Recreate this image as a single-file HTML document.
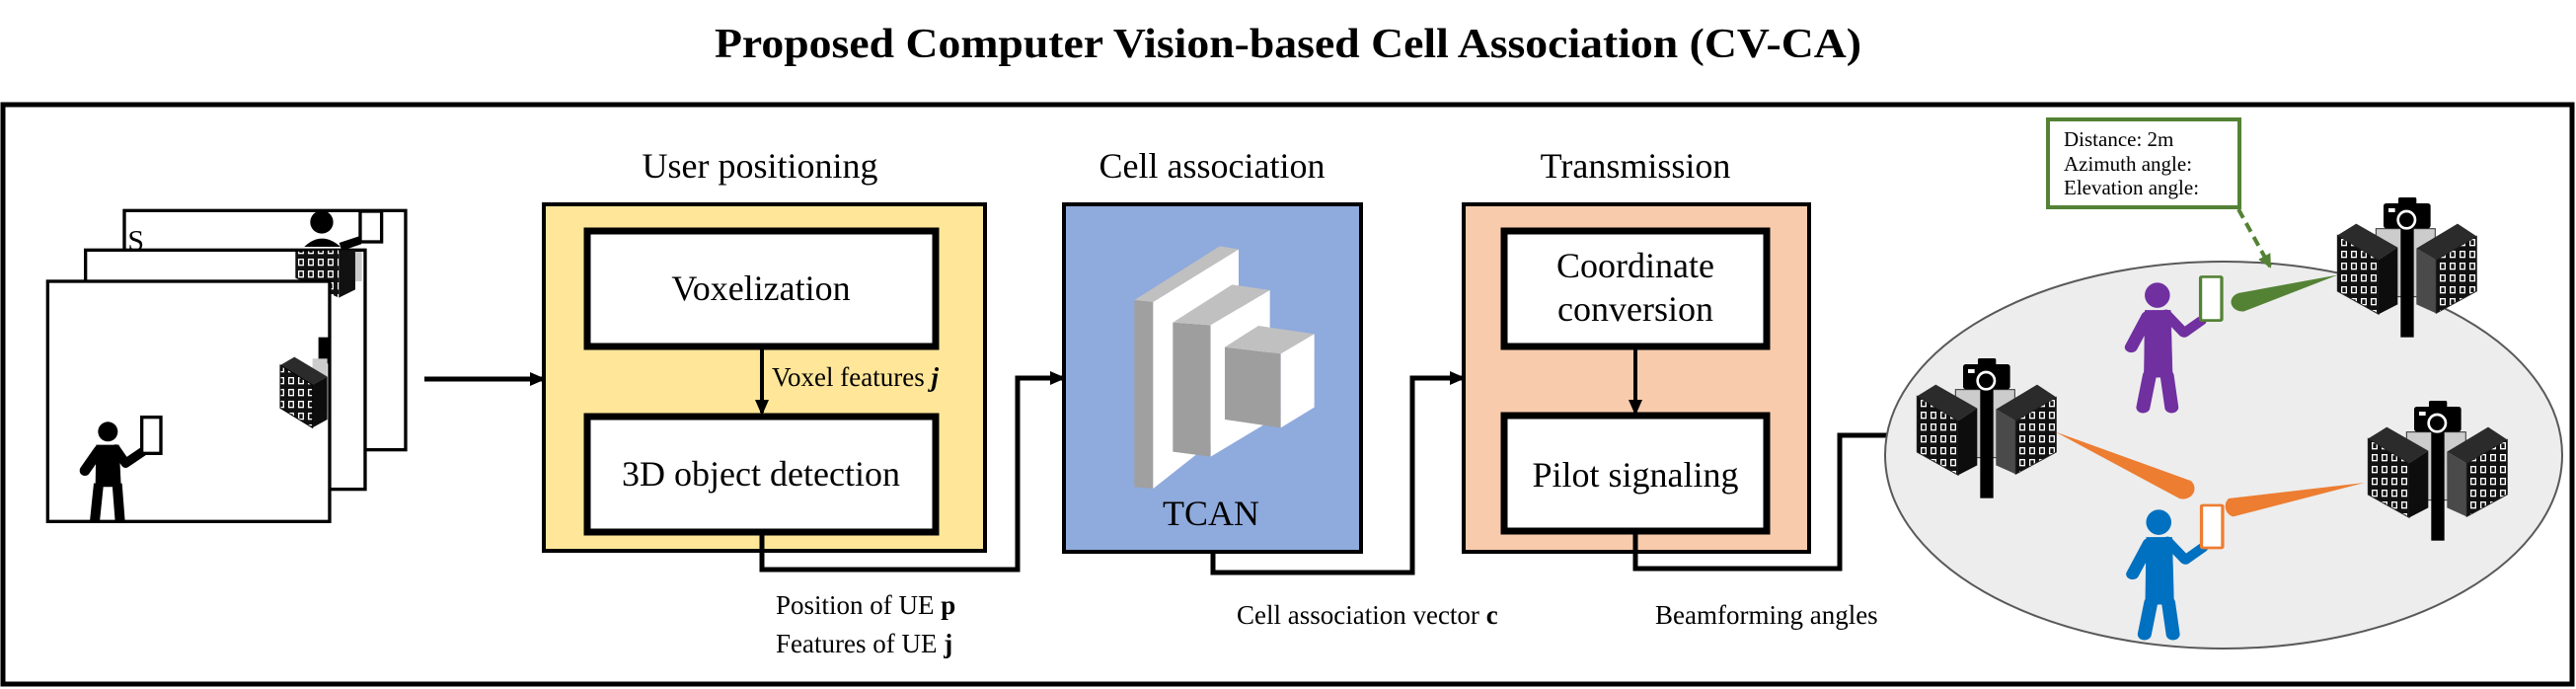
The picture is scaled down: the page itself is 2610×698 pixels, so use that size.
<!DOCTYPE html>
<html><head><meta charset="utf-8"><style>
html,body{margin:0;padding:0;background:#fff;}
svg{display:block;}
text{font-family:"Liberation Serif","Times New Roman",serif;fill:#000;}
</style></head><body>
<svg width="2610" height="698" viewBox="0 0 2610 698" xmlns="http://www.w3.org/2000/svg" font-family="Liberation Serif, serif">
<defs>
<marker id="ah" markerWidth="16" markerHeight="16" refX="13" refY="8" orient="auto" markerUnits="userSpaceOnUse">
<path d="M0,1 L16,8 L0,15 Z" fill="#000"/></marker>
<marker id="ahg" markerWidth="14" markerHeight="14" refX="12" refY="7" orient="auto" markerUnits="userSpaceOnUse">
<path d="M0,0 L14,7 L0,14 Z" fill="#548235"/></marker>
<pattern id="win" x="0" y="0" width="30" height="36" patternUnits="userSpaceOnUse">
<rect width="30" height="36" fill="#111"/><rect x="6" y="6" width="18" height="22" fill="#fff"/><rect x="10" y="10" width="10" height="14" fill="#111"/></pattern>
<g id="cluster">
<rect x="382" y="155" width="180" height="207" fill="#ccc" stroke="#333" stroke-width="3"/>
<polygon points="265,175 322,140 448,212 390,250" fill="#2b2b2b"/>
<polygon points="265,175 390,250 390,415 265,345" fill="url(#win)" stroke="#222" stroke-width="3"/>
<polygon points="390,250 448,212 448,385 390,415" fill="#0d0d0d"/>
<polygon points="505,215 630,140 688,178 565,250" fill="#2b2b2b"/>
<polygon points="505,215 565,250 565,412 505,385" fill="#4a4a4a"/>
<polygon points="565,250 688,178 688,345 565,412" fill="url(#win)" stroke="#222" stroke-width="3"/>
<rect x="457" y="150" width="40" height="335" fill="#000"/>
<rect x="405" y="78" width="143" height="76" rx="8" fill="#000"/>
<rect x="450" y="60" width="55" height="22" rx="5" fill="#000"/>
<circle cx="475" cy="128" r="26" fill="none" stroke="#fff" stroke-width="8"/>
<rect x="420" y="93" width="20" height="12" fill="#fff"/>
</g>
<g id="person">
<ellipse cx="657" cy="522" rx="27" ry="33"/>
<path d="M630,562 L686,562 L690,740 L628,740 Z"/>
<line x1="640" y1="735" x2="626" y2="820" stroke-width="30" stroke-linecap="round"/>
<line x1="678" y1="735" x2="688" y2="820" stroke-width="30" stroke-linecap="round"/>
<line x1="636" y1="578" x2="600" y2="660" stroke-width="28" stroke-linecap="round"/>
<polyline points="676,572 715,622 752,590" fill="none" stroke-width="24" stroke-linecap="round" stroke-linejoin="round"/>
</g>
</defs>

<text x="724" y="58" font-size="42" font-weight="bold" textLength="1162" lengthAdjust="spacingAndGlyphs">Proposed Computer Vision-based Cell Association (CV-CA)</text>
<rect x="3" y="106" width="2603" height="587" fill="none" stroke="#000" stroke-width="5"/>

<g transform="translate(40,200) scale(0.3333)">
<rect x="258" y="40" width="855" height="727" fill="#fff" stroke="#000" stroke-width="10"/>
<text x="268" y="160" font-size="90">S</text>
<ellipse cx="858" cy="75" rx="35" ry="35"/>
<path d="M805,150 Q858,100 915,150 Z"/>
<rect x="975" y="42" width="65" height="93" fill="#fff" stroke="#000" stroke-width="10"/>
<line x1="915" y1="150" x2="975" y2="130" stroke="#000" stroke-width="25"/>
<rect x="140" y="160" width="850" height="727" fill="#fff" stroke="#000" stroke-width="10"/>
<polygon points="778,165 910,160 910,305 778,245" fill="url(#win)"/>
<polygon points="910,160 960,160 960,280 910,305" fill="#111"/>
<rect x="960" y="165" width="20" height="90" fill="#ccc"/>
<rect x="350" y="255" width="80" height="110"/>
<line x1="362" y1="360" x2="355" y2="440" stroke="#000" stroke-width="30" stroke-linecap="round"/>
<line x1="418" y1="360" x2="428" y2="440" stroke="#000" stroke-width="30" stroke-linecap="round"/>
<line x1="340" y1="270" x2="325" y2="295" stroke="#000" stroke-width="28" stroke-linecap="round"/>
<rect x="25" y="255" width="857" height="730" fill="#fff" stroke="#000" stroke-width="10"/>
<rect x="848" y="425" width="30" height="80" fill="#000"/>
<rect x="830" y="490" width="45" height="160" fill="#ccc"/>
<polygon points="732,510 775,485 875,545 830,570" fill="#2b2b2b"/>
<polygon points="732,510 830,570 830,700 732,640" fill="url(#win)" stroke="#000" stroke-width="3"/>
<polygon points="830,570 875,545 875,675 830,700" fill="#0d0d0d"/>
<circle cx="208" cy="712" r="30"/>
<path d="M172,752 L242,752 L248,880 L170,880 Z"/>
<line x1="180" y1="870" x2="168" y2="985" stroke="#000" stroke-width="30"/>
<line x1="236" y1="870" x2="245" y2="985" stroke="#000" stroke-width="30"/>
<line x1="180" y1="770" x2="138" y2="830" stroke="#000" stroke-width="32" stroke-linecap="round"/>
<polyline points="232,765 262,808 318,770" fill="none" stroke="#000" stroke-width="28" stroke-linecap="round" stroke-linejoin="round"/>
<rect x="311" y="668" width="58" height="110" fill="#fff" stroke="#000" stroke-width="10"/>
</g>
<line x1="430" y1="384" x2="550" y2="384" stroke="#000" stroke-width="5" marker-end="url(#ah)"/>

<text x="770" y="180" font-size="36" text-anchor="middle">User positioning</text>
<rect x="551" y="207" width="447" height="351" fill="#FFE699" stroke="#000" stroke-width="4"/>
<rect x="595" y="234" width="353" height="117" fill="#fff" stroke="#000" stroke-width="7"/>
<text x="771" y="304" font-size="36" text-anchor="middle">Voxelization</text>
<line x1="772" y1="354" x2="772" y2="418" stroke="#000" stroke-width="4" marker-end="url(#ah)"/>
<text x="782" y="391" font-size="27">Voxel features <tspan font-weight="bold" font-style="italic">j</tspan></text>
<rect x="595" y="422" width="353" height="117" fill="#fff" stroke="#000" stroke-width="7"/>
<text x="771" y="492" font-size="36" text-anchor="middle">3D object detection</text>
<polyline points="772,540 772,577 1031,577 1031,383 1077,383" fill="none" stroke="#000" stroke-width="5" marker-end="url(#ah)"/>
<text x="786" y="622" font-size="27">Position of UE <tspan font-weight="bold">p</tspan></text>
<text x="786" y="661" font-size="27">Features of UE <tspan font-weight="bold">j</tspan></text>

<text x="1228" y="180" font-size="36" text-anchor="middle">Cell association</text>
<rect x="1078" y="207" width="301" height="352" fill="#8FAADC" stroke="#000" stroke-width="4"/>
<g transform="translate(1130,230) scale(0.3333)">
<polygon points="58,222 115,228 115,795 58,790" fill="#a0a0a0"/>
<polygon points="58,222 318,58 375,68 115,228" fill="#c0c0c0"/>
<polygon points="115,228 375,68 375,590 115,795" fill="#fff"/>
<polygon points="175,290 290,298 290,698 175,683" fill="#9e9e9e"/>
<polygon points="175,290 355,175 470,192 290,298" fill="#c0c0c0"/>
<polygon points="290,298 470,192 470,590 290,698" fill="#fff"/>
<polygon points="333,365 503,385 503,610 333,585" fill="#9e9e9e"/>
<polygon points="333,365 435,300 605,325 503,385" fill="#c0c0c0"/>
<polygon points="503,385 605,325 605,548 503,610" fill="#fff"/>
</g>
<text x="1227" y="532" font-size="36" text-anchor="middle">TCAN</text>
<polyline points="1229,559 1229,580 1431,580 1431,383 1482,383" fill="none" stroke="#000" stroke-width="5" marker-end="url(#ah)"/>
<text x="1253" y="632" font-size="27">Cell association vector <tspan font-weight="bold">c</tspan></text>

<text x="1657" y="180" font-size="36" text-anchor="middle">Transmission</text>
<rect x="1483" y="207" width="350" height="352" fill="#F8CBAD" stroke="#000" stroke-width="4"/>
<rect x="1524" y="234" width="266" height="117" fill="#fff" stroke="#000" stroke-width="7"/>
<text x="1657" y="281" font-size="36" text-anchor="middle">Coordinate</text>
<text x="1657" y="325" font-size="36" text-anchor="middle">conversion</text>
<line x1="1657" y1="354" x2="1657" y2="418" stroke="#000" stroke-width="4" marker-end="url(#ah)"/>
<rect x="1524" y="421" width="266" height="117" fill="#fff" stroke="#000" stroke-width="7"/>
<text x="1657" y="493" font-size="36" text-anchor="middle">Pilot signaling</text>
<polyline points="1657,540 1657,576 1864,576 1864,441 1934,441" fill="none" stroke="#000" stroke-width="5" marker-end="url(#ah)"/>
<text x="1677" y="632" font-size="27">Beamforming angles</text>

<ellipse cx="2253" cy="461" rx="343" ry="196" fill="#EDEDED" stroke="#595959" stroke-width="2"/>
<rect x="2075" y="121" width="194" height="89" fill="#fff" stroke="#548235" stroke-width="4"/>
<text x="2091" y="148" font-size="21">Distance: 2m</text>
<text x="2091" y="173" font-size="21">Azimuth angle:</text>
<text x="2091" y="197" font-size="21">Elevation angle:</text>
<line x1="2268" y1="212" x2="2300" y2="270" stroke="#548235" stroke-width="4" stroke-dasharray="10,6" marker-end="url(#ahg)"/>

<use href="#cluster" transform="translate(2280,180) scale(0.3333)"/>
<use href="#cluster" transform="translate(1854,343) scale(0.3333)"/>
<use href="#cluster" transform="translate(2311,386) scale(0.3333)"/>

<g transform="translate(1880,100) scale(0.4655,0.3814)">
<path d="M1050,468 L840,515 A25,25 0 0 0 845,565 Z" fill="#548235"/>
<path d="M435,885 L730,1015 A25,28 0 0 1 705,1062 Z" fill="#ED7D31"/>
<path d="M1108,1020 L812,1062 A22,28 0 0 0 822,1110 Z" fill="#ED7D31"/>
<g fill="#7030A0" stroke="#7030A0"><use href="#person"/></g>
<rect x="751" y="473" width="46" height="116" rx="3" fill="#fff" stroke="#548235" stroke-width="7"/>
<g fill="#0070C0" stroke="#0070C0" transform="translate(3,603)"><use href="#person"/></g>
<rect x="753" y="1080" width="46" height="113" rx="3" fill="#fff" stroke="#ED7D31" stroke-width="7"/>
</g>
</svg>
</body></html>
